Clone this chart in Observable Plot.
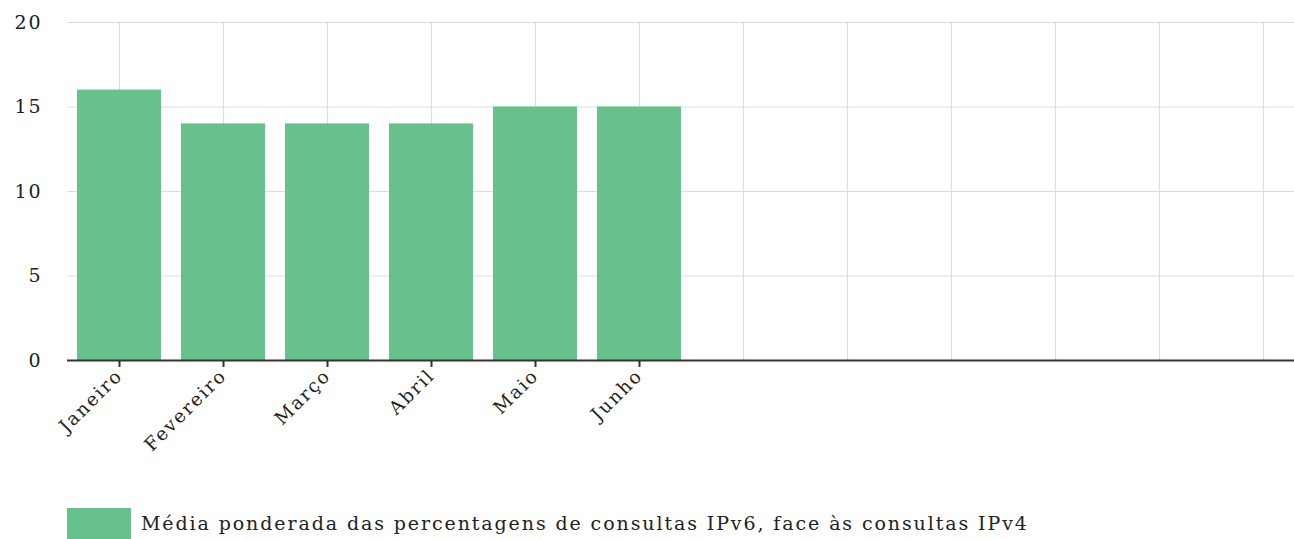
<!DOCTYPE html>
<html>
<head>
<meta charset="utf-8">
<script src="https://cdn.jsdelivr.net/npm/d3@7"></script>
<script src="https://cdn.jsdelivr.net/npm/@observablehq/plot@0.6"></script>
<style>
  html, body { margin: 0; padding: 0; background: #fff; overflow: hidden; }
  #chart svg { display: block; }
  .legend { display: flex; align-items: flex-start; margin-left: 67px; margin-top: 18px;
            font-family: "DejaVu Serif", serif; font-size: 19px; letter-spacing: 1.9px; color: #222; white-space: nowrap; }
  .legend .sw { width: 64px; height: 40px; background: #66c18a; margin-right: 10px; flex: none; }
  .legend span { margin-top: 4px; }
</style>
</head>
<body>
<div id="chart"></div>
<div class="legend"><div class="sw"></div><span id="legendText"></span></div>
<script>
const months = ["Janeiro", "Fevereiro", "Março", "Abril", "Maio", "Junho",
                "Julho", "Agosto", "Setembro", "Outubro", "Novembro", "Dezembro"];
const labeledMonths = ["Janeiro", "Fevereiro", "Março", "Abril", "Maio", "Junho"];
const values = [16, 14, 14, 14, 15, 15];
const yTicks = [0, 5, 10, 15, 20];
const seriesName = "Média ponderada das percentagens de consultas IPv6, face às consultas IPv4";

document.getElementById("legendText").textContent = seriesName;
const data = labeledMonths.map((m, i) => ({month: m, value: values[i]}));

const chart = Plot.plot({
  width: 1315,
  height: 490,
  marginLeft: 67,
  marginRight: 0,
  marginTop: 22,
  marginBottom: 130,
  style: {fontFamily: "DejaVu Serif, serif", fontSize: "18px", color: "#222", background: "#fff", maxWidth: "none", letterSpacing: "1.9px"},
  x: {domain: months, paddingInner: 0.19, paddingOuter: 0.095, label: null},
  y: {domain: [0, 20], label: null},
  marks: [
    Plot.ruleY(yTicks, {stroke: "#ddd", strokeWidth: 1.2}),
    Plot.ruleX(months, {x: d => d, y1: 0, y2: 20, stroke: "#ddd", strokeWidth: 1.2}),
    Plot.barY(data, {x: "month", y: "value", fill: "#66c18a", inset: 0}),
    Plot.axisY(yTicks, {tickSize: 0, tickPadding: 25, label: null, fontSize: 19}),
    Plot.axisX(labeledMonths, {tickSize: 7, tickRotate: -45, tickPadding: 5, label: null, fontSize: 18.5, strokeWidth: 2, stroke: "#333"}),
    Plot.ruleY([0], {stroke: "#333", strokeWidth: 2})
  ]
});
document.getElementById("chart").appendChild(chart);
</script>
</body>
</html>
